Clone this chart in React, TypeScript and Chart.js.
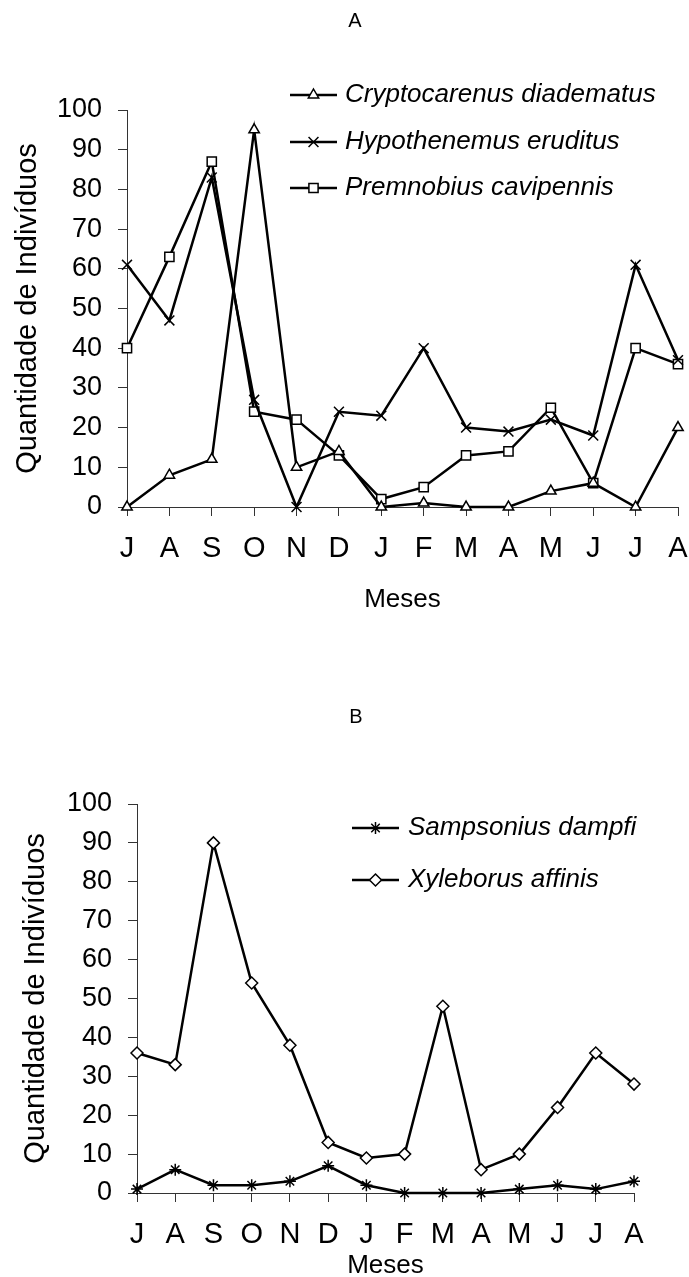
import React, { useEffect, useRef } from 'react';
import { Chart, registerables } from 'chart.js';

Chart.register(...registerables);

// ---- data ----
const months = ['J', 'A', 'S', 'O', 'N', 'D', 'J', 'F', 'M', 'A', 'M', 'J', 'J', 'A'];
const cryptocarenus = [0, 8, 12, 95, 10, 14, 0, 1, 0, 0, 4, 6, 0, 20];
const hypothenemus = [61, 47, 83, 27, 0, 24, 23, 40, 20, 19, 22, 18, 61, 37];
const premnobius = [40, 63, 87, 24, 22, 13, 2, 5, 13, 14, 25, 6, 40, 36];
const sampsonius = [1, 6, 2, 2, 3, 7, 2, 0, 0, 0, 1, 2, 1, 3];
const xyleborus = [36, 33, 90, 54, 38, 13, 9, 10, 48, 6, 10, 22, 36, 28];
const yMin = 0;
const yMax = 100;
const yStep = 10;

const FONT = "'Liberation Sans', Arial, sans-serif";

type Item = { label: string; style: string; radius: number; fill: string };

function drawMarker(ctx: CanvasRenderingContext2D, style: string, x: number, y: number, r: number, fill: string) {
  ctx.save();
  ctx.lineWidth = 1.5;
  ctx.strokeStyle = '#000';
  ctx.fillStyle = fill;
  ctx.beginPath();
  if (style === 'triangle') {
    ctx.moveTo(x, y - r);
    ctx.lineTo(x + r * 0.866, y + r * 0.5);
    ctx.lineTo(x - r * 0.866, y + r * 0.5);
    ctx.closePath();
    ctx.fill();
    ctx.stroke();
  } else if (style === 'rect') {
    const s = r * Math.SQRT1_2;
    ctx.rect(x - s, y - s, 2 * s, 2 * s);
    ctx.fill();
    ctx.stroke();
  } else if (style === 'rectRot') {
    ctx.moveTo(x, y - r);
    ctx.lineTo(x + r, y);
    ctx.lineTo(x, y + r);
    ctx.lineTo(x - r, y);
    ctx.closePath();
    ctx.fill();
    ctx.stroke();
  } else if (style === 'crossRot') {
    const d = r * Math.SQRT1_2;
    ctx.moveTo(x - d, y - d);
    ctx.lineTo(x + d, y + d);
    ctx.moveTo(x + d, y - d);
    ctx.lineTo(x - d, y + d);
    ctx.stroke();
  } else if (style === 'star') {
    const d = r * Math.SQRT1_2;
    ctx.moveTo(x - r, y);
    ctx.lineTo(x + r, y);
    ctx.moveTo(x, y - r);
    ctx.lineTo(x, y + r);
    ctx.moveTo(x - d, y - d);
    ctx.lineTo(x + d, y + d);
    ctx.moveTo(x + d, y - d);
    ctx.lineTo(x - d, y + d);
    ctx.stroke();
  }
  ctx.restore();
}

function overlayPlugin(title: string, titleX: number, titleY: number, items: Item[], rows: number[], lineX1: number, lineX2: number, textX: number) {
  return {
    id: 'overlay',
    afterDraw(chart: any) {
      const ctx: CanvasRenderingContext2D = chart.ctx;
      ctx.save();
      ctx.fillStyle = '#000';
      ctx.font = `20px ${FONT}`;
      ctx.textAlign = 'center';
      ctx.textBaseline = 'middle';
      ctx.fillText(title, titleX, titleY);
      items.forEach((it, i) => {
        const y = rows[i];
        ctx.beginPath();
        ctx.lineWidth = 2.5;
        ctx.strokeStyle = '#000';
        ctx.moveTo(lineX1, y);
        ctx.lineTo(lineX2, y);
        ctx.stroke();
        drawMarker(ctx, it.style, (lineX1 + lineX2) / 2, y, it.radius, it.fill);
        ctx.fillStyle = '#000';
        ctx.font = `italic 26px ${FONT}`;
        ctx.textAlign = 'left';
        ctx.textBaseline = 'middle';
        ctx.fillText(it.label, textX, y);
      });
      ctx.restore();
    },
  };
}

type Cfg = {
  series: number[][];
  items: Item[];
  height: number;
  left: number;
  right: number;
  top: number;
  bottom: number;
  yTitlePad: number;
  xTitlePad: number;
  xTickPad: number;
  plugin: any;
};

function buildConfig(c: Cfg): any {
  return {
    type: 'line',
    data: {
      labels: months,
      datasets: c.series.map((s, i) => ({
        label: c.items[i].label,
        data: s,
        borderColor: '#000',
        borderWidth: 2.5,
        tension: 0,
        pointStyle: c.items[i].style,
        pointRadius: c.items[i].radius,
        pointBackgroundColor: c.items[i].fill,
        pointBorderColor: '#000',
        pointBorderWidth: 1.5,
        clip: false,
      })),
    },
    options: {
      animation: false,
      responsive: false,
      maintainAspectRatio: false,
      layout: { padding: { left: 0, right: 689 - c.right, top: c.top, bottom: 0 } },
      plugins: {
        legend: { display: false },
        tooltip: { enabled: false },
        title: { display: false },
      },
      scales: {
        x: {
          type: 'category',
          offset: false,
          grid: { display: true, drawOnChartArea: false, drawTicks: true, tickLength: 9, color: '#333', lineWidth: 1 },
          border: { display: true, color: '#333', width: 1 },
          ticks: { color: '#000', font: { family: FONT, size: 29 }, padding: c.xTickPad, autoSkip: false, maxRotation: 0, minRotation: 0 },
          title: { display: true, text: 'Meses', color: '#000', font: { family: FONT, size: 26 }, padding: { top: 0, bottom: c.xTitlePad } },
          afterFit: (s: any) => {
            s.height = c.height - c.bottom;
            s.paddingLeft = 0;
            s.paddingRight = 0;
          },
        },
        y: {
          min: yMin,
          max: yMax,
          grid: { display: true, drawOnChartArea: false, drawTicks: true, tickLength: 9, color: '#333', lineWidth: 1 },
          border: { display: true, color: '#333', width: 1 },
          ticks: { stepSize: yStep, color: '#000', font: { family: FONT, size: 27 }, padding: 16 },
          title: { display: true, text: 'Quantidade de Indivíduos', color: '#000', font: { family: FONT, size: 29 }, padding: { top: c.yTitlePad, bottom: 0 } },
          afterFit: (s: any) => {
            s.width = c.left;
            s.paddingTop = 0;
            s.paddingBottom = 0;
          },
        },
      },
    },
    plugins: [c.plugin],
  };
}

const itemsA: Item[] = [
  { label: 'Cryptocarenus diadematus', style: 'triangle', radius: 6, fill: '#fff' },
  { label: 'Hypothenemus eruditus', style: 'crossRot', radius: 7, fill: '#000' },
  { label: 'Premnobius cavipennis', style: 'rect', radius: 6.5, fill: '#fff' },
];
const itemsB: Item[] = [
  { label: 'Sampsonius dampfi', style: 'star', radius: 6, fill: '#000' },
  { label: 'Xyleborus affinis', style: 'rectRot', radius: 6, fill: '#fff' },
];

function LineChart({ cfg, width, height }: { cfg: Cfg; width: number; height: number }) {
  const ref = useRef<HTMLCanvasElement | null>(null);
  useEffect(() => {
    if (!ref.current) return;
    const chart = new Chart(ref.current, buildConfig(cfg));
    return () => chart.destroy();
  }, []);
  return <canvas ref={ref} width={width} height={height} style={{ width, height, display: 'block' }} />;
}

export default function App() {
  const cfgA: Cfg = {
    series: [cryptocarenus, hypothenemus, premnobius],
    items: itemsA,
    height: 650,
    left: 127,
    right: 678,
    top: 110,
    bottom: 507,
    yTitlePad: 10.6,
    xTitlePad: 34.4,
    xTickPad: 16,
    plugin: overlayPlugin('A', 355, 21, itemsA, [95, 142, 188], 290, 337, 345),
  };
  const cfgB: Cfg = {
    series: [sampsonius, xyleborus],
    items: itemsB,
    height: 640,
    left: 137,
    right: 634,
    top: 154,
    bottom: 543,
    yTitlePad: 18.6,
    xTitlePad: 8.4,
    xTickPad: 16,
    plugin: overlayPlugin('B', 356, 67, itemsB, [178, 230], 352, 399, 408),
  };
  return (
    <div style={{ position: 'absolute', left: 0, top: 0, width: 689, height: 1277, overflow: 'hidden', background: '#fff' }}>
      <div style={{ position: 'absolute', left: 0, top: 0 }}>
        <LineChart cfg={cfgA} width={689} height={650} />
      </div>
      <div style={{ position: 'absolute', left: 0, top: 650 }}>
        <LineChart cfg={cfgB} width={689} height={640} />
      </div>
    </div>
  );
}
